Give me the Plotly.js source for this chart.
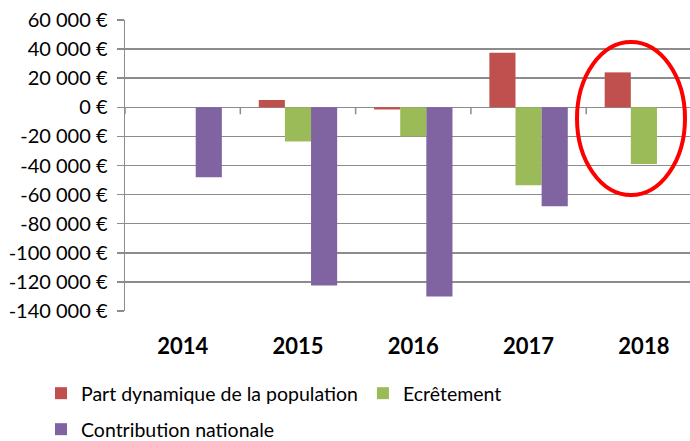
<!DOCTYPE html>
<html><head><meta charset="utf-8">
<script src="https://cdn.plot.ly/plotly-3.0.1.min.js"></script>
<style>html,body{margin:0;padding:0;background:#fff}#chart{width:690px;height:441px}</style>
</head><body><div id="chart"></div>
<script>
const years = ['2014','2015','2016','2017','2018'];
const partDynamique = [null, 5000, -1500, 37500, 24000];
const ecretement = [null, -23500, -20000, -53500, -39000];
const contribution = [-48000, -122500, -130000, -68000, null];
const tickValues = [60000, 40000, 20000, 0, -20000, -40000, -60000, -80000, -100000, -120000, -140000];
const tickLabels = ['60 000 €','40 000 €','20 000 €','0 €','-20 000 €','-40 000 €','-60 000 €','-80 000 €','-100 000 €','-120 000 €','-140 000 €'];
const seriesNames = ['Part dynamique de la population', 'Ecrêtement', 'Contribution nationale'];
const colors = ['#C0504D', '#9BBB59', '#8064A2'];

const font = 'Lato, "Open Sans", sans-serif';
const traces = [partDynamique, ecretement, contribution].map((v, i) => ({
  type: 'bar', x: years, y: v, name: seriesNames[i],
  marker: {color: colors[i], line: {width: 0}},
  legend: i === 2 ? 'legend2' : 'legend',
  hoverinfo: 'skip'
}));

const grey = '#8c8c8c';
const shapes = [];
for (let i = 0; i < years.length; i++) {
  shapes.push({type: 'line', xref: 'x', yref: 'y', x0: i - 0.5, x1: i - 0.5,
    ysizemode: 'pixel', yanchor: 0, y0: 0, y1: -7, line: {color: grey, width: 1.5}});
}
shapes.push({type: 'circle', xref: 'paper', yref: 'paper',
  x0: (577 - 125) / 565, x1: (685 - 125) / 565,
  y0: (311 - 195) / 291, y1: (311 - 42) / 291,
  line: {color: '#FF0000', width: 4}});

const layout = {
  width: 690, height: 441,
  margin: {l: 125, r: 0, t: 20, b: 130},
  paper_bgcolor: '#fff', plot_bgcolor: '#fff',
  font: {family: font, color: '#000'},
  barmode: 'group', bargap: 0.32, bargroupgap: 0,
  xaxis: {type: 'category', range: [-0.5, 4.4], showgrid: false, zeroline: false,
    showline: false, ticks: '', tickfont: {size: 22, family: font, weight: 'bold'},
    ticklabelstandoff: 20, fixedrange: true},
  yaxis: {range: [-140000, 60000], tickvals: tickValues, ticktext: tickLabels,
    showgrid: true, gridcolor: grey, gridwidth: 1.5, zeroline: false,
    showline: true, linecolor: grey, linewidth: 1.5,
    ticks: 'outside', ticklen: 7, tickcolor: grey, tickwidth: 1.5,
    ticklabelstandoff: 5,
    tickfont: {size: 20, family: font}, fixedrange: true},
  legend: {orientation: 'h', xref: 'container', yref: 'container',
    x: 41 / 690, y: 1 - 374 / 441, xanchor: 'left', yanchor: 'top',
    font: {size: 19.5, family: font}, bgcolor: 'rgba(0,0,0,0)', itemclick: false},
  legend2: {orientation: 'h', xref: 'container', yref: 'container',
    x: 41 / 690, y: 1 - 410 / 441, xanchor: 'left', yanchor: 'top',
    font: {size: 19.5, family: font}, bgcolor: 'rgba(0,0,0,0)', itemclick: false},
  shapes: shapes
};
Plotly.newPlot('chart', traces, layout, {displayModeBar: false, staticPlot: true});
</script></body></html>
